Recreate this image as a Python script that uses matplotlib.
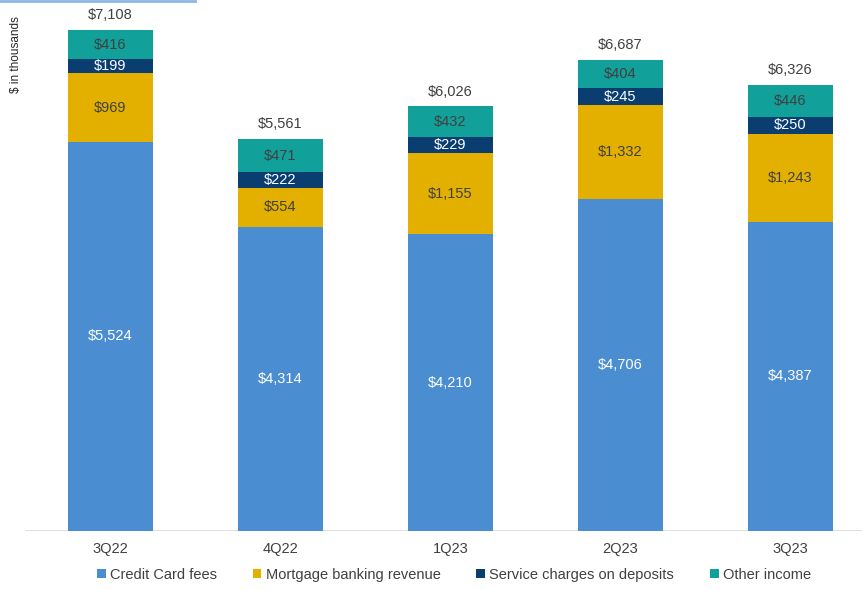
import matplotlib

matplotlib.use("Agg")
import matplotlib.pyplot as plt
from matplotlib.lines import Line2D
from matplotlib.patches import Patch

plt.rcParams["font.family"] = ["Liberation Sans", "DejaVu Sans"]

quarters = ["3Q22", "4Q22", "1Q23", "2Q23", "3Q23"]
credit_card = [5524, 4314, 4210, 4706, 4387]
mortgage = [969, 554, 1155, 1332, 1243]
service = [199, 222, 229, 245, 250]
other = [416, 471, 432, 404, 446]
totals = [7108, 5561, 6026, 6687, 6326]

series = [
    ("Credit Card fees", credit_card, "#4A8DD1", "white"),
    ("Mortgage banking revenue", mortgage, "#E3B000", "#404040"),
    ("Service charges on deposits", service, "#0B3E70", "white"),
    ("Other income", other, "#12A09A", "#404040"),
]

fig = plt.figure(figsize=(8.63, 5.90), dpi=100)
ax = fig.add_axes([25 / 863, (590 - 531) / 590, (862 - 25) / 863, 531 / 590])

x = list(range(len(quarters)))
bottom = [0] * len(quarters)
for name, vals, color, txt in series:
    ax.bar(x, vals, width=0.5, bottom=bottom, color=color, label=name, zorder=2)
    for i, v in enumerate(vals):
        ax.text(i, bottom[i] + v / 2, f"${v:,}", ha="center", va="center",
                color=txt, fontsize=10.5, zorder=3)
    bottom = [b + v for b, v in zip(bottom, vals)]

for i, t in enumerate(totals):
    ax.text(i, t + 110, f"${t:,}", ha="center", va="bottom", color="#404040", fontsize=10.5)

ax.set_xlim(-0.5, 4.42)
ax.set_ylim(0, 531 / 0.07048)
ax.axhline(0, color="#D9D9D9", linewidth=1.2, zorder=1)
for s in ax.spines.values():
    s.set_visible(False)
ax.set_yticks([])
ax.set_xticks(x)
ax.set_xticklabels(quarters, fontsize=10.5, color="#404040")
ax.tick_params(axis="x", length=0, pad=8)

fig.text(16 / 863, 1 - 55 / 590, "$ in thousands", rotation=90, ha="center", va="center",
         fontsize=8.5, color="#262626")

# accent line across the top-left edge
fig.add_artist(Line2D([0, 195 / 863], [0.999, 0.999], color="#8DB6E3", linewidth=2,
                      transform=fig.transFigure))

handles = [Patch(facecolor=c, edgecolor="none") for _, _, c, _ in series]
labels = [n for n, _, _, _ in series]
fig.legend(handles, labels, loc="center", bbox_to_anchor=(454 / 863, 1 - 575 / 590), ncol=4,
           frameon=False, fontsize=10.5, handlelength=0.6, handleheight=0.6,
           handletextpad=0.3, columnspacing=2.45, labelcolor="#404040")

fig.savefig("out.png", dpi=100)
